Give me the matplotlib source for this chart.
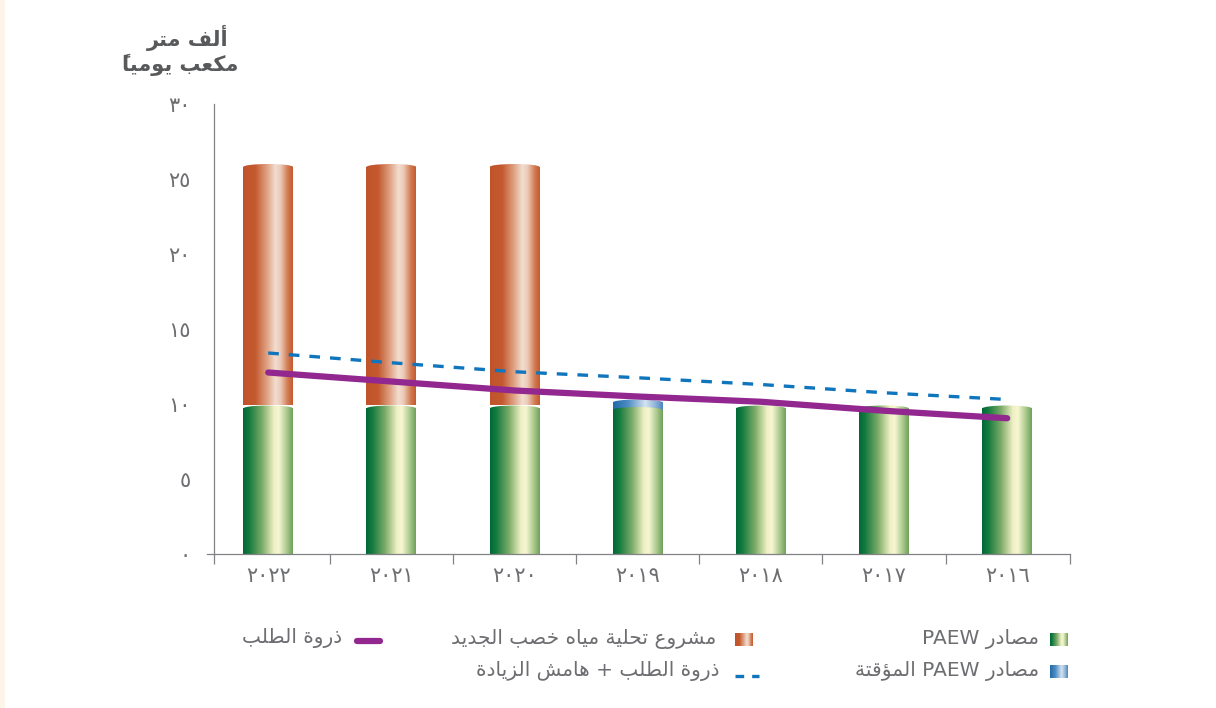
import matplotlib
matplotlib.use('Agg')
import matplotlib.pyplot as plt
import numpy as np
from matplotlib.patches import Rectangle, Ellipse
from matplotlib.colors import LinearSegmentedColormap
from matplotlib.lines import Line2D

# ---------------- data ----------------
years = ['٢٠٢٢', '٢٠٢١', '٢٠٢٠', '٢٠١٩', '٢٠١٨', '٢٠١٧', '٢٠١٦']
paew = [9.9, 9.9, 9.9, 9.8, 9.9, 9.9, 9.9]
paew_temp = [0, 0, 0, 0.5, 0, 0, 0]
khasab = [16.1, 16.1, 16.1, 0, 0, 0, 0]
peak_demand = [12.1, 11.5, 10.9, 10.5, 10.15, 9.55, 9.05]
peak_margin = [13.4, 12.75, 12.15, 11.75, 11.3, 10.75, 10.3]
yticks = [0, 5, 10, 15, 20, 25, 30]
ytick_labels = ['٠', '٥', '١٠', '١٥', '٢٠', '٢٥', '٣٠']
unit_title = ['ألف متر', 'مكعب يوميا\u064b']
lbl_paew = 'مصادر PAEW'
lbl_temp = 'مصادر PAEW المؤقتة'
lbl_khasab = 'مشروع تحلية مياه خصب الجديد'
lbl_peak = 'ذروة الطلب'
lbl_margin = 'ذروة الطلب + هامش الزيادة'

# ---------------- minimal Arabic shaping + bidi ----------------
_TABLE = {
    0x0621: (0xFE80, 1), 0x0622: (0xFE81, 2), 0x0623: (0xFE83, 2), 0x0624: (0xFE85, 2),
    0x0625: (0xFE87, 2), 0x0626: (0xFE89, 4), 0x0627: (0xFE8D, 2), 0x0628: (0xFE8F, 4),
    0x0629: (0xFE93, 2), 0x062A: (0xFE95, 4), 0x062B: (0xFE99, 4), 0x062C: (0xFE9D, 4),
    0x062D: (0xFEA1, 4), 0x062E: (0xFEA5, 4), 0x062F: (0xFEA9, 2), 0x0630: (0xFEAB, 2),
    0x0631: (0xFEAD, 2), 0x0632: (0xFEAF, 2), 0x0633: (0xFEB1, 4), 0x0634: (0xFEB5, 4),
    0x0635: (0xFEB9, 4), 0x0636: (0xFEBD, 4), 0x0637: (0xFEC1, 4), 0x0638: (0xFEC5, 4),
    0x0639: (0xFEC9, 4), 0x063A: (0xFECD, 4), 0x0641: (0xFED1, 4), 0x0642: (0xFED5, 4),
    0x0643: (0xFED9, 4), 0x0644: (0xFEDD, 4), 0x0645: (0xFEE1, 4), 0x0646: (0xFEE5, 4),
    0x0647: (0xFEE9, 4), 0x0648: (0xFEED, 2), 0x0649: (0xFEEF, 2), 0x064A: (0xFEF1, 4),
}
_LAMALEF = {0x0622: 0xFEF5, 0x0623: 0xFEF7, 0x0625: 0xFEF9, 0x0627: 0xFEFB}


def _is_mark(c):
    o = ord(c)
    return 0x064B <= o <= 0x065F or o == 0x0670


def _shape(s):
    chars = list(s)
    n = len(chars)
    res = []
    i = 0
    while i < n:
        c = chars[i]
        if _is_mark(c):
            if res:
                res[-1] = c + res[-1]   # mark placed before its base in visual order
            else:
                res.append(c)
            i += 1
            continue
        if ord(c) not in _TABLE:
            res.append(c)
            i += 1
            continue
        j = i - 1
        while j >= 0 and _is_mark(chars[j]):
            j -= 1
        prev = chars[j] if j >= 0 else None
        k = i + 1
        while k < n and _is_mark(chars[k]):
            k += 1
        nxt = chars[k] if k < n else None
        cp = prev is not None and ord(prev) in _TABLE and _TABLE[ord(prev)][1] == 4
        if ord(c) == 0x0644 and nxt is not None and ord(nxt) in _LAMALEF:
            base = _LAMALEF[ord(nxt)]
            res.append(chr(base + 1 if cp else base))
            i = k + 1
            continue
        base, nf = _TABLE[ord(c)]
        cn = nf == 4 and nxt is not None and ord(nxt) in _TABLE
        if nf == 1:
            g = base
        elif nf == 2:
            g = base + 1 if cp else base
        else:
            if cp and cn:
                g = base + 3
            elif cp:
                g = base + 1
            elif cn:
                g = base + 2
            else:
                g = base
        res.append(chr(g))
        i += 1
    return res


def ar(s):
    clusters = _shape(s)
    runs = []
    for cl in clusters:
        ch = cl[-1]
        ltr = ch.isascii() and ch.isalnum()
        if runs and runs[-1][0] == ltr:
            runs[-1][1].append(cl)
        else:
            runs.append((ltr, [cl]))
    out = ''
    for ltr, cls in reversed(runs):
        out += ''.join(cls) if ltr else ''.join(reversed(cls))
    return out


# ---------------- style ----------------
plt.rcParams['font.family'] = ['DejaVu Sans']
TXT = '#6d6e71'
AX = '#808285'

green_cm = LinearSegmentedColormap.from_list('g', [
    (0.0, '#006837'), (0.12, '#137a3e'), (0.38, '#7cab68'), (0.62, '#eef0c4'),
    (0.72, '#f7f6d2'), (0.88, '#a9c88c'), (1.0, '#6fa05a')])
orange_cm = LinearSegmentedColormap.from_list('o', [
    (0.0, '#c1532a'), (0.25, '#c45a30'), (0.5, '#e2a98c'), (0.65, '#f2ddd0'),
    (0.75, '#edcbb8'), (0.9, '#d07a52'), (1.0, '#c6592f')])
blue_cm = LinearSegmentedColormap.from_list('b', [
    (0.0, '#1f6aa8'), (0.3, '#4e8cc4'), (0.65, '#d5e3f0'), (0.85, '#8fb4d8'), (1.0, '#4a86bf')])

W, H = 1216, 708
fig = plt.figure(figsize=(W / 100, H / 100), dpi=100)
fig.patch.set_facecolor('white')
fig.patches.append(Rectangle((0, 0), 5 / W, 1, transform=fig.transFigure,
                             facecolor='#fdf5ea', edgecolor='none', zorder=0))

x_left, x_right, y_bot, y_top = 214, 1070, 554, 104
ax = fig.add_axes([x_left / W, 1 - y_bot / H, (x_right - x_left) / W, (y_bot - y_top) / H])
XL = (-0.44, 6.51)
YL = (0, 30)

bar_w = 0.405
cap = 0.2
grad = np.linspace(0, 1, 256).reshape(1, -1)


def grad_bar(x, bottom, top, cmap, z):
    if top - bottom <= 0:
        return
    x0, x1 = x - bar_w / 2, x + bar_w / 2
    rect = Rectangle((x0, bottom), bar_w, max(top - cap - bottom, 0), transform=ax.transData)
    ell = Ellipse((x, top - cap), bar_w, 2 * cap, transform=ax.transData)
    for clip in (rect, ell):
        im = ax.imshow(grad, extent=[x0, x1, bottom, top], aspect='auto', cmap=cmap,
                       interpolation='bilinear', zorder=z)
        im.set_clip_path(clip)


xs = np.arange(len(years))
for i in xs:
    g = paew[i]
    t = paew_temp[i]
    k = khasab[i]
    if k > 0:
        grad_bar(i, g, g + k, orange_cm, 2)
    if t > 0:
        grad_bar(i, g - cap, g + t, blue_cm, 2)
    grad_bar(i, 0, g, green_cm, 2.5)

ax.plot(xs, peak_margin, color='#0f75bc', lw=2.4, linestyle=(0, (3.2, 3.0)), zorder=4)
ax.plot(xs, peak_demand, color='#92278f', lw=4.5, solid_capstyle='round', zorder=5)

ax.set_xlim(*XL)
ax.set_ylim(*YL)

for s in ('top', 'right'):
    ax.spines[s].set_visible(False)
for s in ('left', 'bottom'):
    ax.spines[s].set_color(AX)
    ax.spines[s].set_linewidth(0.9)
ax.plot([XL[0] - 0.06, XL[0]], [0, 0], color=AX, lw=0.9, clip_on=False, zorder=3)

ax.set_yticks(yticks)
ax.set_yticklabels(ytick_labels)
ax.tick_params(axis='y', length=0, pad=17, labelsize=15, labelcolor=TXT)

ax.set_xticks([XL[0]] + [i + 0.5 for i in range(6)] + [XL[1]])
ax.set_xticklabels([''] * 8)
ax.tick_params(axis='x', which='major', length=7, width=0.9, color=AX, direction='out')
ax.set_xticks(xs, minor=True)
ax.set_xticklabels(years, minor=True)
ax.tick_params(axis='x', which='minor', length=0, pad=9, labelsize=15, labelcolor=TXT)


def px(x, y):
    return x / W, 1 - y / H


# unit title
fig.text(*px(188, 38), ar(unit_title[0]), ha='center', va='center', fontsize=15,
         fontweight='bold', color='#58595b')
fig.text(*px(180, 65), ar(unit_title[1]), ha='center', va='center', fontsize=15,
         fontweight='bold', color='#58595b')


# legend
def swatch(x0, y0, x1, y1, cmap):
    a = fig.add_axes([x0 / W, 1 - y1 / H, (x1 - x0) / W, (y1 - y0) / H])
    a.imshow(grad, aspect='auto', cmap=cmap, interpolation='bilinear')
    a.axis('off')


LS = 14.5
swatch(1050, 633, 1068, 646, green_cm)
fig.text(*px(1039, 639), ar(lbl_paew), ha='right', va='center', fontsize=LS, color=TXT)
swatch(1050, 665, 1068, 678, blue_cm)
fig.text(*px(1039, 671), ar(lbl_temp), ha='right', va='center', fontsize=LS, color=TXT)
swatch(735, 633, 753, 646, orange_cm)
fig.text(*px(716, 639), ar(lbl_khasab), ha='right', va='center', fontsize=LS, color=TXT)
fig.lines.append(Line2D([735 / W, 759 / W], [1 - 676 / H] * 2, transform=fig.transFigure,
                        color='#0f75bc', lw=2.4, linestyle=(0, (2.6, 2.4))))
fig.text(*px(720, 671), ar(lbl_margin), ha='right', va='center', fontsize=LS, color=TXT)
fig.lines.append(Line2D([357 / W, 380 / W], [1 - 641 / H] * 2, transform=fig.transFigure,
                        color='#92278f', lw=4.5, solid_capstyle='round'))
fig.text(*px(342, 638), ar(lbl_peak), ha='right', va='center', fontsize=LS, color=TXT)

fig.savefig('out.png', dpi=100, facecolor='white')
